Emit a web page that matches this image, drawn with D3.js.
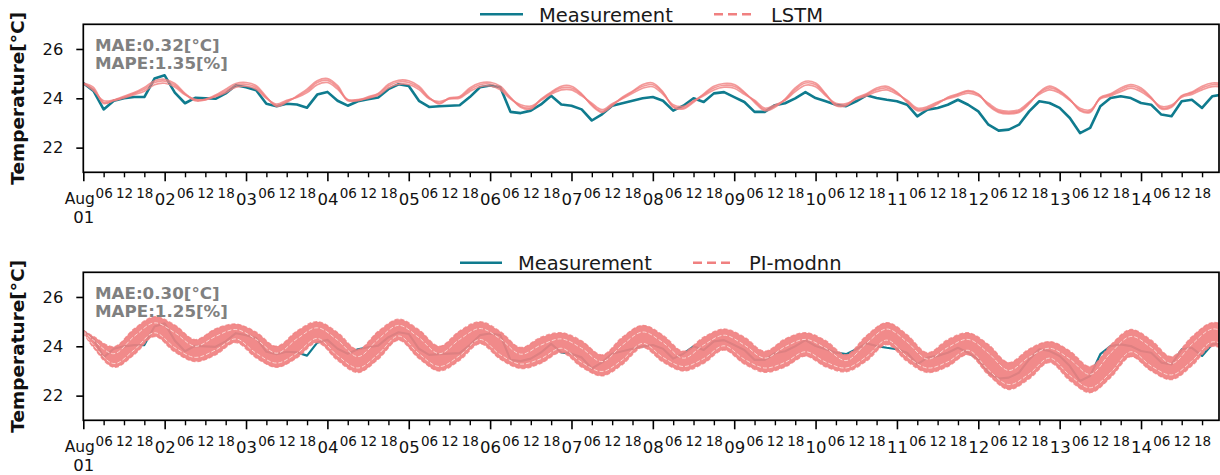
<!DOCTYPE html>
<html>
<head>
<meta charset="utf-8">
<script src="https://cdn.jsdelivr.net/npm/d3@7"></script>
<style>
  body { margin: 0; background: #fff; }
  svg text { font-family: "DejaVu Sans", sans-serif; }
</style>
</head>
<body>
<svg id="chart" width="1220" height="475"></svg>
<script>
// ---- data -------------------------------------------------------------
// Hourly step of the measured / LSTM series (one value every 3 h from Aug 01 00:00)
const seriesStepHours = 3;

// Measured zone temperature [°C]
const measurement = [
  24.62, 24.30, 23.55, 23.90, 24.00, 24.05, 24.05, 24.80,
  24.93, 24.23, 23.80, 24.02, 24.00, 23.98, 24.20, 24.53,
  24.45, 24.33, 23.78, 23.68, 23.78, 23.75, 23.62, 24.15,
  24.26, 23.90, 23.70, 23.88, 23.96, 24.03, 24.37, 24.57,
  24.50, 23.90, 23.65, 23.68, 23.70, 23.72, 24.05, 24.45,
  24.52, 24.45, 23.45, 23.40, 23.50, 23.75, 24.10, 23.75,
  23.70, 23.55, 23.10, 23.35, 23.70, 23.80, 23.90, 24.00,
  24.05, 23.90, 23.50, 23.70, 24.00, 23.85, 24.20, 24.25,
  24.05, 23.85, 23.45, 23.45, 23.72, 23.80, 24.00, 24.25,
  24.01, 23.88, 23.74, 23.68, 23.88, 24.12, 24.01, 23.94,
  23.88, 23.74, 23.27, 23.54, 23.61, 23.74, 23.94, 23.74,
  23.47, 22.93, 22.69, 22.73, 22.93, 23.47, 23.88, 23.81,
  23.61, 23.20, 22.59, 22.80, 23.68, 24.01, 24.08, 24.01,
  23.81, 23.74, 23.34, 23.27, 23.88, 23.94, 23.61, 24.08,
  24.15
];

// LSTM predictions, three training runs
const lstmRun1 = [
  24.60, 24.37, 23.83, 23.90, 24.05, 24.20, 24.37, 24.64,
  24.70, 24.53, 24.17, 23.90, 23.93, 24.10, 24.30, 24.53,
  24.57, 24.44, 24.03, 23.71, 23.88, 24.06, 24.30, 24.64,
  24.73, 24.44, 23.90, 23.90, 24.03, 24.17, 24.50, 24.66,
  24.64, 24.42, 24.01, 23.81, 23.99, 24.04, 24.35, 24.55,
  24.58, 24.42, 24.01, 23.68, 23.61, 23.94, 24.22, 24.42,
  24.42, 24.15, 23.74, 23.47, 23.74, 24.01, 24.26, 24.49,
  24.55, 24.22, 23.68, 23.61, 23.88, 24.15, 24.42, 24.53,
  24.49, 24.22, 23.88, 23.54, 23.68, 23.94, 24.35, 24.62,
  24.55, 24.15, 23.74, 23.74, 23.99, 24.15, 24.35, 24.42,
  24.22, 23.88, 23.54, 23.61, 23.81, 24.01, 24.15, 24.28,
  24.15, 23.74, 23.47, 23.41, 23.47, 23.81, 24.22, 24.42,
  24.28, 23.94, 23.54, 23.47, 24.01, 24.15, 24.35, 24.49,
  24.35, 24.01, 23.61, 23.68, 24.08, 24.22, 24.42, 24.55,
  24.53
];
const lstmRun2 = [
  24.60, 24.31, 23.90, 23.93, 24.02, 24.15, 24.29, 24.55,
  24.61, 24.46, 24.14, 23.96, 23.95, 24.07, 24.23, 24.45,
  24.49, 24.37, 24.00, 23.77, 23.92, 24.03, 24.23, 24.55,
  24.64, 24.37, 23.95, 23.95, 24.00, 24.12, 24.42, 24.57,
  24.56, 24.35, 23.98, 23.87, 23.98, 24.00, 24.28, 24.47,
  24.50, 24.35, 23.98, 23.74, 23.68, 23.92, 24.16, 24.34,
  24.34, 24.10, 23.80, 23.54, 23.78, 23.98, 24.20, 24.41,
  24.47, 24.16, 23.74, 23.67, 23.90, 24.10, 24.34, 24.45,
  24.41, 24.16, 23.92, 23.60, 23.73, 23.92, 24.27, 24.53,
  24.47, 24.10, 23.80, 23.79, 23.97, 24.10, 24.27, 24.34,
  24.16, 23.92, 23.60, 23.66, 23.85, 23.98, 24.10, 24.21,
  24.10, 23.80, 23.53, 23.47, 23.53, 23.85, 24.16, 24.34,
  24.21, 23.92, 23.60, 23.53, 23.98, 24.10, 24.27, 24.41,
  24.27, 23.98, 23.67, 23.73, 24.04, 24.16, 24.34, 24.47,
  24.46
];
const lstmRun3 = [
  24.62, 24.44, 23.79, 23.93, 24.08, 24.23, 24.44, 24.71,
  24.77, 24.60, 24.20, 23.93, 23.96, 24.13, 24.37, 24.60,
  24.64, 24.51, 24.06, 23.67, 23.84, 24.09, 24.37, 24.71,
  24.80, 24.51, 23.93, 23.93, 24.06, 24.20, 24.57, 24.73,
  24.71, 24.49, 24.04, 23.77, 24.02, 24.07, 24.42, 24.62,
  24.65, 24.49, 24.04, 23.64, 23.57, 23.97, 24.25, 24.49,
  24.49, 24.18, 23.70, 23.43, 23.70, 24.04, 24.29, 24.56,
  24.62, 24.25, 23.64, 23.57, 23.84, 24.18, 24.49, 24.60,
  24.56, 24.25, 23.84, 23.50, 23.64, 23.97, 24.42, 24.69,
  24.62, 24.18, 23.70, 23.70, 24.02, 24.18, 24.42, 24.49,
  24.25, 23.84, 23.50, 23.57, 23.77, 24.04, 24.18, 24.31,
  24.18, 23.70, 23.43, 23.37, 23.43, 23.77, 24.25, 24.49,
  24.31, 23.97, 23.50, 23.43, 24.04, 24.18, 24.42, 24.56,
  24.42, 24.04, 23.57, 23.64, 24.11, 24.25, 24.49, 24.62,
  24.60
];

// PI-modnn ensemble: hours since Aug 01 00:00 at which the band is sampled
const piHours = [0,
  3, 9, 15, 21,   27, 33, 39, 45,   51, 57, 63, 69,   75, 81, 87, 93,
  99, 105, 111, 117,   123, 129, 135, 141,   147, 153, 159, 165,
  171, 177, 183, 189,   195, 201, 207, 213,   219, 225, 231, 237,
  243, 249, 255, 261,   267, 273, 279, 285,   291, 297, 303, 309,
  315, 321, 327, 333,   339];
// upper and lower edge of the ensemble spread
const piUpper = [24.65,
  24.40, 23.98, 24.71, 25.20,   24.86, 24.27, 24.71, 24.90,   24.57, 24.00, 24.62, 25.00,
  24.56, 23.87, 24.61, 25.10,   24.67, 24.00, 24.62, 25.00,   24.60, 23.95, 24.37, 24.55,
  24.22, 23.65, 24.37, 24.85,   24.45, 23.80, 24.37, 24.70,   24.37, 23.80, 24.30, 24.55,
  24.23, 23.66, 24.43, 24.96,   24.47, 23.74, 24.27, 24.55,   24.07, 23.34, 23.89, 24.19,
  23.81, 23.18, 24.05, 24.68,   24.25, 23.58, 24.39, 24.96,   24.75];
const piLower = [24.55,
  23.95, 23.15, 23.66, 24.40,   23.77, 23.38, 23.65, 24.15,   23.53, 23.15, 23.53, 24.15,
  23.43, 22.94, 23.48, 24.25,   23.51, 23.00, 23.43, 24.10,   23.48, 23.10, 23.31, 23.75,
  23.16, 22.80, 23.26, 23.95,   23.36, 23.00, 23.31, 23.85,   23.28, 22.95, 23.16, 23.60,
  23.17, 22.97, 23.40, 24.07,   23.39, 22.94, 23.18, 23.66,   22.84, 22.25, 22.68, 23.34,
  22.61, 22.12, 22.73, 23.58,   23.00, 22.65, 23.21, 24.00,   23.70];
// two individual members that show through the band
const piRunA = [24.57,
  24.05, 23.30, 23.85, 24.55,   23.95, 23.55, 23.85, 24.30,   23.72, 23.32, 23.72, 24.32,
  23.62, 23.12, 23.68, 24.42,   23.70, 23.18, 23.62, 24.28,   23.66, 23.28, 23.50, 23.92,
  23.35, 22.98, 23.45, 24.12,   23.55, 23.18, 23.50, 24.02,   23.47, 23.12, 23.35, 23.78,
  23.36, 23.12, 23.58, 24.25,   23.58, 23.12, 23.37, 23.84,   23.04, 22.45, 22.88, 23.52,
  22.82, 22.32, 22.93, 23.78,   23.20, 22.84, 23.40, 24.18,   23.90];
const piRunB = [24.62,
  24.25, 23.70, 24.40, 24.95,   24.55, 24.00, 24.40, 24.68,   24.28, 23.72, 24.30, 24.75,
  24.25, 23.58, 24.28, 24.85,   24.35, 23.70, 24.28, 24.72,   24.30, 23.68, 24.05, 24.30,
  23.92, 23.38, 24.05, 24.58,   24.15, 23.52, 24.05, 24.45,   24.05, 23.52, 23.98, 24.28,
  23.92, 23.42, 24.12, 24.70,   24.17, 23.48, 23.95, 24.28,   23.72, 23.02, 23.56, 23.92,
  23.48, 22.86, 23.72, 24.40,   23.95, 23.30, 24.08, 24.70,   24.45];

const yTickValues = [22, 24, 26];
const panelInfo = [
  { model: "LSTM",     mae: "MAE:0.32[°C]", mape: "MAPE:1.35[%]" },
  { model: "PI-modnn", mae: "MAE:0.30[°C]", mape: "MAPE:1.25[%]" }
];

// ---- layout -----------------------------------------------------------
const TEAL = "#0f7b8e";
const SALMON = "#f08080";
const plotLeft = 83.3, plotRight = 1219;
const panelBoxes = [
  { top: 24.3, bottom: 172.3, legendY: 14.3, lineX: [480, 523], textX: 539, dashX: [714, 754], modelX: 771 },
  { top: 272.3, bottom: 420.3, legendY: 262.7, lineX: [460, 502], textX: 518, dashX: [693, 733], modelX: 749 }
];

const t0 = Date.UTC(2023, 7, 1);
const HOUR = 3600e3;
const svg = d3.select("#chart");

const x = d3.scaleUtc()
  .domain([new Date(t0), new Date(t0 + 335 * HOUR)])
  .range([plotLeft, plotRight]);

const stepDate = i => new Date(t0 + i * seriesStepHours * HOUR);
const measPts = measurement.map((v, i) => ({ t: stepDate(i), v }));
const lstmPts = [lstmRun1, lstmRun2, lstmRun3].map(run => run.map((v, i) => ({ t: stepDate(i), v })));
const piDate = h => new Date(t0 + h * HOUR);
const piBand = piHours.map((h, i) => ({ t: piDate(h), hi: piUpper[i], lo: piLower[i] }));
const piRuns = [piRunA, piRunB].map(run => run.map((v, i) => ({ t: piDate(piHours[i]), v })));

const majorTicks = d3.utcDay.range(new Date(t0), new Date(t0 + 336 * HOUR));
const minorTicks = d3.utcHour.every(6).range(new Date(t0), new Date(t0 + 336 * HOUR))
  .filter(d => d.getUTCHours() !== 0);

panelBoxes.forEach((box, p) => {
  const info = panelInfo[p];
  const y = d3.scaleLinear().domain([21, 27]).range([box.bottom, box.top]);
  const g = svg.append("g");

  const clipId = "clip" + p;
  svg.append("clipPath").attr("id", clipId)
    .append("rect").attr("x", plotLeft).attr("y", box.top)
    .attr("width", plotRight - plotLeft).attr("height", box.bottom - box.top);

  const plot = g.append("g").attr("clip-path", `url(#${clipId})`);
  const smooth = d3.line().x(d => x(d.t)).y(d => y(d.v)).curve(d3.curveCatmullRom.alpha(0.5));
  const jagged = d3.line().x(d => x(d.t)).y(d => y(d.v));

  // measured temperature
  plot.append("path").datum(measPts)
    .attr("fill", "none").attr("stroke", TEAL)
    .attr("stroke-width", p === 0 ? 2.6 : 2.2)
    .attr("stroke-linejoin", "round")
    .attr("d", jagged);

  if (p === 0) {
    lstmPts.forEach(run => {
      plot.append("path").datum(run)
        .attr("fill", "none").attr("stroke", SALMON)
        .attr("stroke-width", 1.7).attr("stroke-opacity", 0.8)
        .attr("d", smooth);
    });
  } else {
    const area = d3.area().x(d => x(d.t)).y0(d => y(d.lo)).y1(d => y(d.hi))
      .curve(d3.curveCatmullRom.alpha(0.5));
    plot.append("path").datum(piBand)
      .attr("fill", SALMON).attr("fill-opacity", 0.92)
      .attr("d", area);
    // dashed edges of the ensemble
    ["hi", "lo"].forEach(k => {
      plot.append("path").datum(piBand)
        .attr("fill", "none").attr("stroke", SALMON)
        .attr("stroke-width", 1.4).attr("stroke-dasharray", "4,2").attr("stroke-opacity", 0.8)
        .attr("d", d3.line().x(d => x(d.t)).y(d => y(d[k])).curve(d3.curveCatmullRom.alpha(0.5)));
    });
    piRuns.forEach(run => {
      plot.append("path").datum(run)
        .attr("fill", "none").attr("stroke", "#fbd6d2")
        .attr("stroke-width", 1).attr("stroke-dasharray", "4,2")
        .attr("d", smooth);
    });
  }

  // frame
  g.append("rect").attr("x", plotLeft).attr("y", box.top)
    .attr("width", plotRight - plotLeft).attr("height", box.bottom - box.top)
    .attr("fill", "none").attr("stroke", "#000").attr("stroke-width", 1.7);

  // y axis
  const yAxis = g.append("g").attr("transform", `translate(${plotLeft},0)`)
    .call(d3.axisLeft(y).tickValues(yTickValues).tickSize(7).tickPadding(13).tickFormat(d3.format("d")));
  yAxis.select(".domain").remove();
  yAxis.selectAll(".tick line").attr("stroke-width", 1.6);
  yAxis.selectAll(".tick text").attr("font-size", 16.3).attr("font-family", "DejaVu Sans").attr("fill", "#111");

  // x axis: day ticks
  const xMajor = g.append("g").attr("transform", `translate(0,${box.bottom})`)
    .call(d3.axisBottom(x).tickValues(majorTicks).tickSize(9).tickPadding(12).tickFormat(d3.utcFormat("%d")));
  xMajor.select(".domain").remove();
  xMajor.selectAll(".tick line").attr("stroke-width", 1.6);
  xMajor.selectAll(".tick text").attr("font-size", 16.5).attr("font-family", "DejaVu Sans").attr("fill", "#111");
  xMajor.selectAll(".tick text").filter((d, i) => i === 0)
    .text(null).attr("dy", null)
    .call(t => {
      t.append("tspan").attr("x", -4).attr("dy", "0.71em").attr("font-size", 15.5).text("Aug");
      t.append("tspan").attr("x", 0).attr("dy", "1.12em").text("01");
    });

  // x axis: 6-hour ticks
  const xMinor = g.append("g").attr("transform", `translate(0,${box.bottom})`)
    .call(d3.axisBottom(x).tickValues(minorTicks).tickSize(5).tickPadding(11).tickFormat(d3.utcFormat("%H")));
  xMinor.select(".domain").remove();
  xMinor.selectAll(".tick line").attr("stroke-width", 1.4);
  xMinor.selectAll(".tick text").attr("font-size", 13.5).attr("font-family", "DejaVu Sans").attr("fill", "#111");

  // y label
  const midY = (box.top + box.bottom) / 2;
  g.append("text")
    .attr("transform", `translate(24,${midY}) rotate(-90)`)
    .attr("text-anchor", "middle")
    .attr("font-size", 18.5).attr("font-weight", "bold").attr("fill", "#111")
    .text("Temperature[°C]");

  // error metrics
  g.append("text").attr("x", 95).attr("y", box.top + 26.4)
    .attr("font-size", 16.7).attr("font-weight", "bold").attr("fill", "#808080")
    .text(info.mae);
  g.append("text").attr("x", 95).attr("y", box.top + 45)
    .attr("font-size", 16.7).attr("font-weight", "bold").attr("fill", "#808080")
    .text(info.mape);

  // legend
  const lg = g.append("g");
  lg.append("line").attr("x1", box.lineX[0]).attr("x2", box.lineX[1])
    .attr("y1", box.legendY).attr("y2", box.legendY)
    .attr("stroke", TEAL).attr("stroke-width", 2.6);
  lg.append("text").attr("x", box.textX).attr("y", box.legendY + 7.2)
    .attr("font-size", 19.5).attr("fill", "#1a1a1a").text("Measurement");
  lg.append("line").attr("x1", box.dashX[0]).attr("x2", box.dashX[1])
    .attr("y1", box.legendY).attr("y2", box.legendY)
    .attr("stroke", SALMON).attr("stroke-width", 2.4).attr("stroke-dasharray", "9,5");
  lg.append("text").attr("x", box.modelX).attr("y", box.legendY + 7.2)
    .attr("font-size", 19.5).attr("fill", "#1a1a1a").text(info.model);
});
</script>
</body>
</html>
